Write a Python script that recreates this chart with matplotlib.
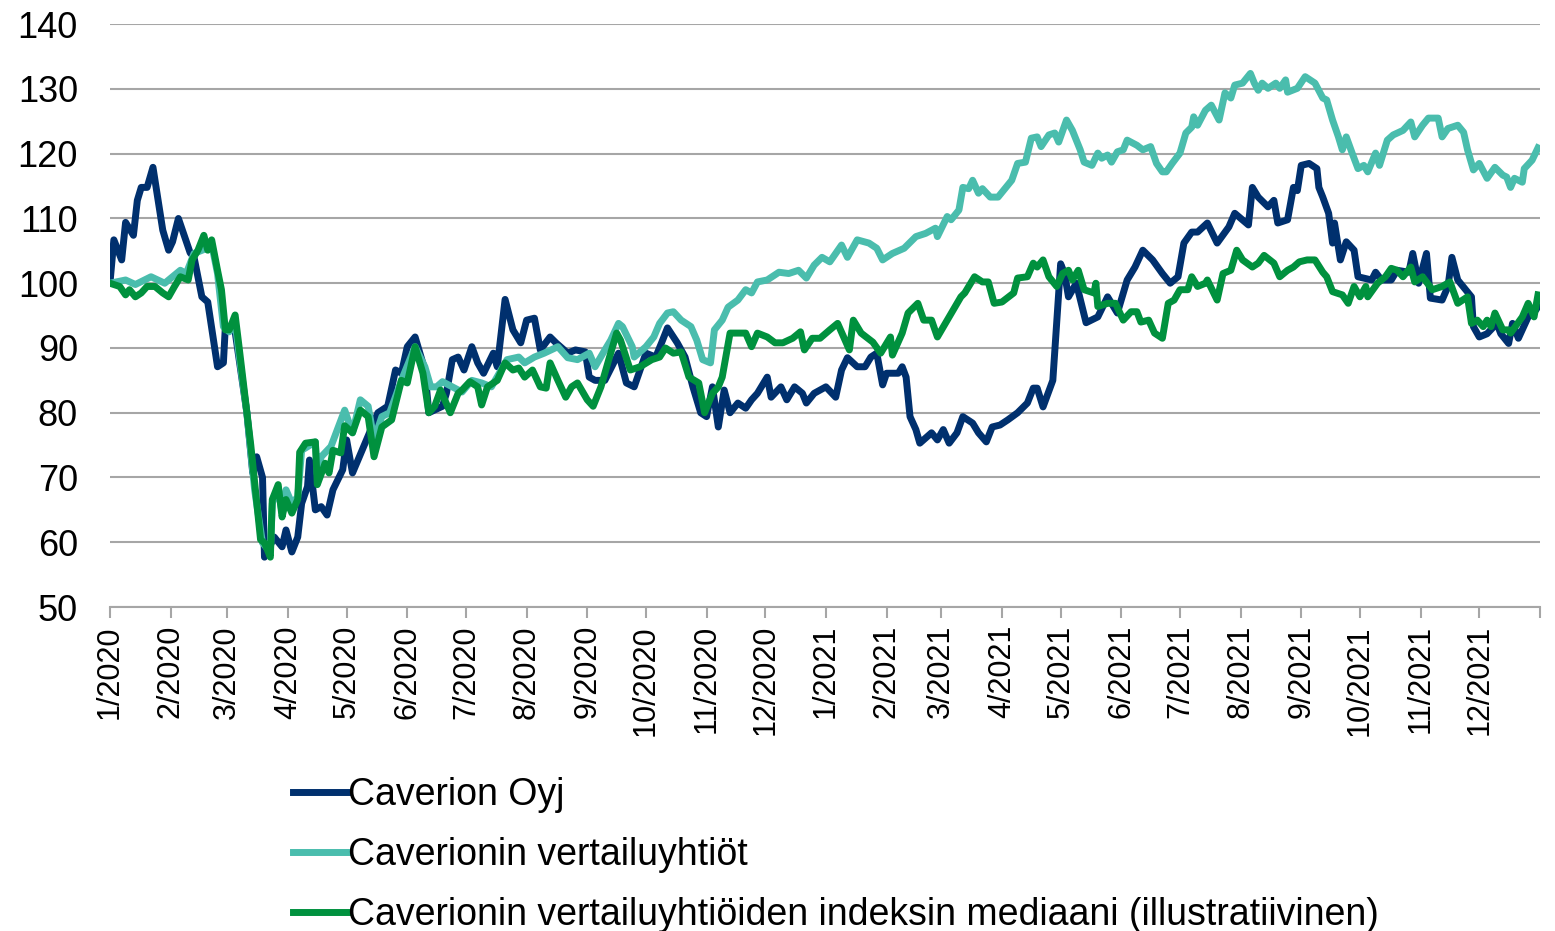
import pandas as pd
import matplotlib
matplotlib.use("Agg")
import matplotlib.pyplot as plt
import matplotlib.dates as mdates
from matplotlib.ticker import FuncFormatter

# Share price index 1/2020 = 100
# day = days since 2020-01-01
START = pd.Timestamp("2020-01-01")

caverion_day = [0, 2, 6, 8, 12, 14, 16, 19, 22, 27, 30, 32, 35, 41, 43, 47, 50, 55, 58, 59,
                64, 70, 73, 75, 78, 79, 84, 88, 90, 93, 96, 98, 101, 102, 105, 108, 111, 114, 119, 121,
                124, 137, 142, 146, 149, 152, 156, 161, 163, 170, 172, 175, 178, 181, 185, 188, 191, 196, 198, 202,
                206, 210, 213, 217, 220, 225, 228, 234, 238, 243, 245, 248, 253, 260, 264, 268, 274, 279, 282, 285,
                290, 294, 298, 302, 305, 308, 311, 314, 317, 321, 325, 328, 331, 336, 338, 343, 346, 350, 354, 356,
                360, 366, 371, 374, 377, 382, 386, 389, 392, 395, 397, 403, 405, 407, 409, 412, 414, 420, 423, 426,
                429, 433, 436, 441, 444, 448, 451, 455, 459, 464, 469, 472, 474, 477, 482, 486, 488, 490, 494, 499,
                505, 510, 515, 520, 524, 528, 533, 538, 542, 546, 549, 553, 556, 561, 566, 572, 575, 582, 584, 587,
                592, 595, 597, 602, 605, 607, 609, 613, 617, 618, 620, 623, 625, 626, 629, 632, 636, 638, 645, 647,
                650, 655, 658, 664, 666, 669, 673, 675, 681, 684, 686, 689, 693, 696, 697, 700, 704, 709, 711, 715,
                717, 720, 725, 729, 730]
caverion_val = [100, 106.7, 103.6, 109.4, 107.4, 112.8, 114.8, 114.8, 117.9, 108.2, 105.1, 106.4, 110, 104.7, 104, 97.9, 97.1, 87.1, 87.7, 93.3,
                92.5, 80, 70.7, 73.2, 70, 57.7, 60.8, 59.3, 61.9, 58.5, 60.8, 66, 68.6, 72.7, 65, 65.5, 64.2, 68.1, 71.2, 75.8,
                70.7, 80, 81, 86.6, 86.1, 90.2, 91.7, 86.6, 80, 81, 83, 88.2, 88.6, 86.6, 90.2, 87.7, 86.1, 89.2, 87.1, 97.5,
                92.8, 90.8, 94.3, 94.6, 89.7, 91.7, 90.8, 89.2, 89.7, 89.4, 85.5, 85, 85, 89.2, 84.6, 84, 89.2, 88.6, 90.8, 93.1,
                90.8, 88.6, 84, 80, 79.4, 84, 77.8, 83.5, 80, 81.5, 80.7, 82, 83, 85.5, 82.4, 84, 82, 84, 83, 81.5,
                83, 84, 82.4, 86.6, 88.5, 87.1, 87.1, 88.6, 89.2, 84.3, 86.1, 86.1, 87.1, 85.5, 79.4, 77.4, 75.3, 76.9, 75.8, 77.4,
                75.3, 76.9, 79.4, 78.4, 76.9, 75.5, 77.8, 78.1, 78.9, 80, 81.5, 83.8, 83.8, 80.9, 85, 103, 101.5, 97.9, 100, 93.9,
                94.8, 97.9, 95.4, 100.5, 102.5, 105.1, 103.6, 101.5, 100, 101, 106.2, 107.9, 107.9, 109.3, 106.2, 108.7, 110.8, 109, 114.8, 113.3,
                111.8, 112.8, 109.3, 109.8, 114.8, 114.3, 118.2, 118.5, 117.7, 114.8, 113.3, 110.8, 106.2, 109.3, 103.6, 106.4, 105.1, 101, 100.5, 101.7,
                100.5, 100.5, 102, 101.7, 104.6, 100, 104.6, 97.7, 97.4, 99.5, 104, 100.5, 99, 97.9, 93.3, 91.7, 92.2, 93.8, 92.2, 90.7,
                93.8, 91.5, 94.8, 95.9, 96.4]

peers_day = [0, 8, 13, 21, 28, 36, 39, 43, 48, 52, 55, 58, 61, 64, 66, 70, 74, 78, 82, 83,
             86, 88, 90, 93, 96, 98, 105, 106, 108, 113, 120, 124, 128, 132, 135, 139, 143, 149, 156, 161,
             164, 167, 170, 175, 180, 185, 190, 195, 203, 209, 212, 217, 222, 229, 234, 239, 245, 248, 253, 256,
             260, 262, 267, 268, 274, 278, 281, 285, 288, 292, 297, 300, 303, 307, 309, 313, 316, 321, 325, 328,
             331, 336, 342, 347, 352, 356, 360, 364, 368, 374, 377, 382, 388, 392, 395, 400, 406, 412, 417, 422,
             423, 428, 430, 434, 436, 439, 441, 444, 446, 450, 454, 458, 461, 464, 468, 471, 474, 476, 480, 483,
             485, 489, 492, 496, 498, 502, 505, 507, 510, 512, 515, 518, 520, 525, 528, 532, 535, 538, 540, 543,
             547, 550, 553, 554, 556, 560, 563, 567, 570, 573, 575, 579, 583, 585, 587, 589, 592, 596, 598, 601,
             602, 607, 611, 616, 620, 622, 625, 628, 630, 632, 635, 638, 641, 643, 647, 649, 653, 656, 661, 665,
             667, 671, 674, 679, 681, 684, 689, 692, 694, 697, 700, 704, 708, 712, 714, 716, 718, 722, 723, 727,
             730]
peers_val = [100, 100.5, 99.8, 101, 100, 102, 101.5, 104.6, 105.2, 106, 101.5, 93.3, 92.5, 94, 89, 80, 68, 59.9, 58.5, 66,
             68.5, 64.5, 68.1, 66, 67, 74.2, 75.5, 70.5, 73.2, 74.8, 80.4, 76.9, 82, 81, 75.8, 79.4, 80, 85, 90.2, 87.1,
             84, 84, 84.8, 84, 83.2, 85, 84.6, 84, 88.2, 88.6, 87.7, 88.6, 89.2, 90.2, 88.5, 88.2, 89.2, 87.1, 89.7, 91.2,
             93.8, 93.3, 90.2, 88.6, 90.2, 91.7, 93.8, 95.4, 95.6, 94.3, 93.3, 91.2, 88.2, 87.7, 92.8, 94.3, 96.3, 97.4, 99, 98.5,
             100.2, 100.5, 101.7, 101.5, 102, 100.8, 102.8, 104, 103.3, 105.9, 104, 106.7, 106.2, 105.4, 103.6, 104.6, 105.4, 107.2, 107.7, 108.5,
             107.2, 110.3, 109.8, 111.3, 114.8, 114.6, 115.9, 113.9, 114.6, 113.3, 113.3, 114.8, 115.9, 118.5, 118.7, 122.4, 122.6, 121.1, 122.9, 123.2,
             121.8, 125.2, 123.6, 120.6, 118.7, 118.2, 120.1, 119.3, 119.8, 118.7, 120.3, 120.6, 122.1, 121.3, 120.6, 121.1, 118.5, 117.2, 117.2, 118.5,
             120.1, 123.2, 124.1, 125.7, 124.4, 126.7, 127.5, 125.2, 129.4, 128.6, 130.6, 130.9, 132.4, 130.9, 129.8, 130.9, 130.1, 130.9, 130.1, 131.4,
             129.5, 130.1, 131.9, 130.9, 128.6, 128.3, 125.2, 122.6, 120.6, 122.6, 120.1, 117.7, 118.2, 117.2, 120.1, 118.2, 122.1, 122.9, 123.6, 124.9,
             122.6, 124.4, 125.5, 125.5, 122.6, 123.9, 124.4, 123.3, 120.6, 117.5, 118.5, 116.2, 117.9, 116.7, 116.4, 114.8, 116.2, 115.6, 117.7, 119,
             120.9]

median_day = [0, 5, 8, 10, 13, 16, 19, 23, 27, 30, 33, 36, 40, 42, 45, 48, 50, 52, 55, 57,
              59, 61, 64, 66, 72, 77, 79, 82, 83, 86, 88, 90, 93, 96, 97, 100, 105, 106, 110, 112,
              114, 118, 120, 124, 128, 132, 135, 139, 144, 149, 152, 156, 160, 163, 166, 169, 174, 178, 180, 184,
              188, 190, 193, 198, 202, 206, 209, 212, 216, 220, 223, 225, 229, 233, 236, 239, 244, 247, 251, 255,
              259, 261, 266, 271, 277, 281, 284, 288, 292, 296, 301, 304, 308, 311, 313, 317, 325, 328, 331, 336,
              340, 344, 349, 353, 355, 359, 363, 368, 372, 378, 380, 384, 390, 394, 399, 400, 405, 408, 413, 416,
              420, 423, 429, 435, 437, 442, 446, 449, 452, 456, 462, 464, 469, 472, 474, 477, 480, 484, 487, 490,
              492, 495, 498, 503, 504, 505, 510, 514, 518, 522, 525, 527, 531, 534, 538, 541, 544, 547, 551, 553,
              556, 560, 561, 566, 569, 573, 576, 579, 584, 587, 590, 595, 598, 602, 605, 608, 612, 616, 620, 622,
              625, 630, 633, 636, 639, 642, 643, 648, 652, 655, 658, 661, 665, 667, 671, 676, 681, 685, 689, 694,
              696, 699, 702, 704, 706, 708, 712, 715, 716, 722, 725, 728, 730]
median_val = [100, 99.5, 98.2, 99, 97.9, 98.5, 99.5, 99.5, 98.5, 97.9, 99.5, 101, 100.5, 103.6, 105.1, 107.4, 105.1, 106.7, 102, 99,
              92.8, 92.8, 95.1, 90.2, 75, 60.4, 59.9, 57.7, 66.6, 68.9, 63.9, 66.6, 64.5, 66.6, 73.9, 75.3, 75.5, 68.9, 72.2, 70.7,
              74.2, 73.8, 78, 76.9, 80.4, 79.4, 73.2, 77.8, 78.9, 85, 84.6, 90.2, 86.1, 80, 81, 83.5, 80, 83, 83.5, 84.8,
              84, 81.2, 84, 85, 87.7, 86.6, 86.9, 85.5, 86.6, 84, 83.8, 87.7, 85, 82.4, 84, 84.6, 82, 81, 84, 88.2,
              92.3, 91.2, 86.6, 87.1, 88.2, 88.6, 90, 89.2, 89.4, 85.5, 84.6, 80, 83, 84, 85.5, 92.3, 92.3, 90.2, 92.3, 91.7,
              90.8, 90.8, 91.5, 92.5, 89.7, 91.5, 91.5, 92.8, 93.8, 89.7, 94.3, 92.3, 90.9, 89.2, 91.7, 88.9, 92.3, 95.4, 96.9, 94.3,
              94.3, 91.7, 94.8, 97.9, 98.5, 101, 100.2, 100.2, 96.9, 97.1, 98.5, 100.8, 101, 103.1, 102.5, 103.6, 101, 99.5, 101.5, 102,
              100.5, 102, 99, 98.5, 100, 96.4, 96.9, 96.9, 94.3, 95.6, 95.6, 94, 94.3, 92.3, 91.5, 96.9, 97.4, 99, 99, 101,
              99.5, 100, 100.5, 97.4, 101.5, 102, 105.1, 103.6, 102.5, 103.1, 104.3, 103.1, 101, 102, 102.5, 103.3, 103.6, 103.6, 101.7, 101,
              98.7, 98.2, 96.9, 99.5, 97.9, 99.5, 97.9, 100, 101, 102.3, 102, 101, 102.5, 100.2, 101, 99, 99.5, 100.2, 96.9, 97.9,
              93.8, 94.3, 93.3, 94.3, 93.3, 95.4, 92.8, 92.8, 92.3, 94.8, 96.9, 94.8, 98.2]

labels = ["Caverion Oyj", "Caverionin vertailuyhtiöt",
          "Caverionin vertailuyhtiöiden indeksin mediaani (illustratiivinen)"]
colors = ["#00306E", "#4ABDAD", "#00913E"]


def to_dates(days):
    return START + pd.to_timedelta(days, unit="D")


def month_label(x, pos):
    d = mdates.num2date(x)
    if d.year > 2021:
        return ""
    return f"{d.month}/{d.year}"


plt.rcParams["font.family"] = ["Liberation Sans", "DejaVu Sans"]

fig = plt.figure(figsize=(15.55, 9.31), dpi=100)
ax = fig.add_axes([0.0707, 0.348, 0.9196, 0.626])

series = [(caverion_day, caverion_val), (peers_day, peers_val), (median_day, median_val)]
for (d, v), lab, col in zip(series, labels, colors):
    ax.plot(to_dates(d), v, color=col, lw=5, label=lab, solid_joinstyle="round")

ax.set_ylim(50, 140)
ax.set_yticks(range(50, 141, 10))
ax.set_xlim(START, pd.Timestamp("2022-01-01"))
ax.xaxis.set_major_locator(mdates.MonthLocator())
ax.xaxis.set_major_formatter(FuncFormatter(month_label))

ax.grid(axis="y", color="#A6A6A6", lw=1.5)
ax.set_axisbelow(True)
for s in ["top", "right", "left"]:
    ax.spines[s].set_visible(False)
ax.spines["bottom"].set_color("#A6A6A6")
ax.spines["bottom"].set_linewidth(1.5)
ax.tick_params(axis="y", length=0, labelsize=26, pad=23)
ax.tick_params(axis="x", length=8, width=1.5, color="#A6A6A6", labelsize=22, labelrotation=90, pad=5)

fig.legend(loc="upper left", bbox_to_anchor=(0.179, 0.181), frameon=False, fontsize=27,
           handlelength=1.47, handletextpad=0.0, labelspacing=0.64, borderaxespad=0)

fig.savefig("out.png", dpi=100)
